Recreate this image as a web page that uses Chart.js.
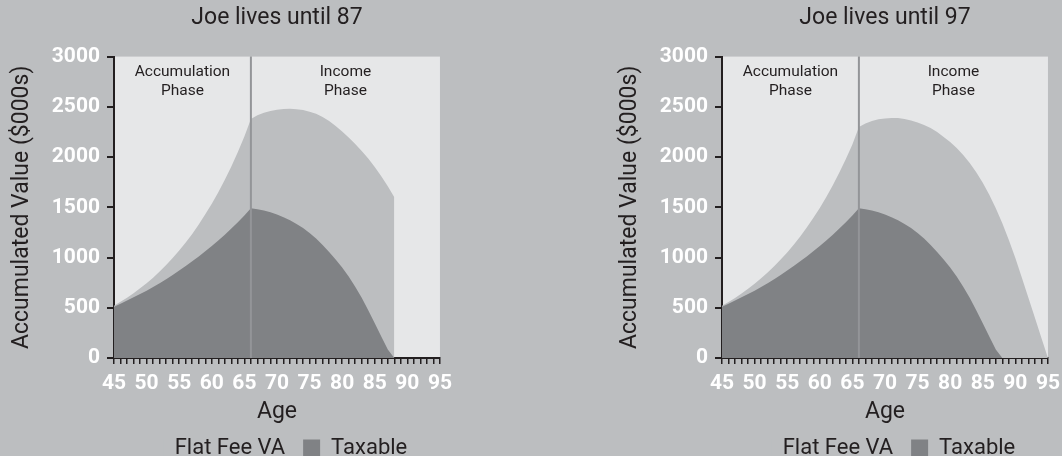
<!DOCTYPE html>
<html>
<head>
<meta charset="utf-8">
<script src="https://cdn.jsdelivr.net/npm/chart.js@4"></script>
<style>
  html, body { margin: 0; padding: 0; background: #bcbec0; overflow: hidden; }
  .box { position: absolute; top: 0; width: 459px; height: 469px; }
</style>
</head>
<body>
<div class="box" style="left:0"><canvas id="leftChart"></canvas></div>
<div class="box" style="left:608px"><canvas id="rightChart"></canvas></div>
<script>
// ages on the x axis, one point per year
const ages = [45,46,47,48,49,50,51,52,53,54,55,56,57,58,59,60,61,62,63,64,65,
              66,67,68,69,70,71,72,73,74,75,76,77,78,79,80,81,82,83,84,85,
              86,87,88,89,90,91,92,93,94,95];
const retireAge = 66;

// Taxable account, same in both scenarios (ages 45..88)
const taxable = [510,540,572,604,637,670,707,745,785,827,870,915,962,1011,1062,1115,
                 1170,1228,1289,1352,1419,1490,1480,1468,1450,1428,1402,1372,1335,1293,
                 1245,1190,1125,1055,980,900,810,710,600,475,345,215,85,0];

// Flat Fee VA, Joe lives until 87 (ages 45..88)
const vaUntil87 = [520,560,600,645,695,745,800,860,925,995,1070,1150,1235,1330,1430,1535,
                   1650,1775,1905,2050,2205,2380,2415,2440,2458,2470,2478,2480,2477,2468,
                   2452,2430,2400,2360,2310,2255,2195,2130,2060,1985,1900,1810,1710,1600];

// Flat Fee VA, Joe lives until 97 (ages 45..95)
const vaUntil97 = [520,558,598,642,689,739,793,851,913,980,1050,1127,1210,1298,1393,1494,
                   1603,1720,1846,1980,2125,2300,2335,2360,2376,2385,2390,2388,2380,2365,
                   2345,2320,2290,2250,2200,2150,2090,2020,1940,1850,1745,1625,1490,1340,
                   1175,995,800,600,400,200,0];

const dark = '#231f20';
const plotBg = '#e6e7e8';
const vaColor = '#bcbec0';
const taxColor = '#808285';

// plot background, retirement line and phase captions
const phasePlugin = {
    id: 'phases',
    beforeDraw(chart) {
        const {ctx, chartArea: a} = chart;
        ctx.save();
        ctx.fillStyle = plotBg;
        ctx.fillRect(a.left, a.top, a.right - a.left, a.bottom - a.top);
        ctx.restore();
    },
    afterDatasetsDraw(chart) {
        const {ctx, chartArea: a, scales: {x}} = chart;
        const xr = x.getPixelForValue(ages.indexOf(retireAge));
        ctx.save();
        ctx.strokeStyle = '#939598';
        ctx.lineWidth = 2;
        ctx.beginPath();
        ctx.moveTo(xr, a.top);
        ctx.lineTo(xr, a.bottom);
        ctx.stroke();

        ctx.fillStyle = dark;
        ctx.font = '15.5px Roboto';
        ctx.textAlign = 'center';
        ctx.textBaseline = 'middle';
        const cl = (a.left + xr) / 2, cr = (xr + a.right) / 2;
        ctx.fillText('Accumulation', cl, a.top + 16);
        ctx.fillText('Phase', cl, a.top + 35);
        ctx.fillText('Income', cr, a.top + 16);
        ctx.fillText('Phase', cr, a.top + 35);
        ctx.restore();
    }
};

function makeChart(id, titleText, vaData) {
    const ctx = document.getElementById(id).getContext('2d');
    return new Chart(ctx, {
        type: 'line',
        data: {
            labels: ages,
            datasets: [{
                label: 'Flat Fee VA',
                data: vaData,
                backgroundColor: vaColor,
                borderColor: vaColor,
                borderWidth: 0,
                fill: 'origin',
                order: 1
            }, {
                label: 'Taxable',
                data: taxable,
                backgroundColor: taxColor,
                borderColor: taxColor,
                borderWidth: 0,
                fill: 'origin',
                order: 0
            }]
        },
        options: {
            responsive: true,
            maintainAspectRatio: false,
            animation: false,
            layout: { padding: { left: 0, right: 10, top: 0, bottom: 0 } },
            elements: {
                point: { radius: 0 },
                line: { tension: 0 }
            },
            plugins: {
                tooltip: { enabled: false },
                title: {
                    display: true,
                    text: titleText,
                    fullSize: false,
                    color: dark,
                    font: { family: 'Roboto', size: 23, weight: 'normal' },
                    padding: { top: 4, bottom: 25 }
                },
                legend: {
                    position: 'bottom',
                    fullSize: false,
                    labels: {
                        color: dark,
                        font: { family: 'Roboto', size: 22 },
                        boxWidth: 17,
                        boxHeight: 17,
                        padding: 18,
                        sort: (a, b) => a.datasetIndex - b.datasetIndex
                    }
                }
            },
            scales: {
                x: {
                    z: 1,
                    afterFit: function(scale) { scale.height = 61; },
                    border: { display: true, color: dark, width: 2 },
                    grid: {
                        display: true,
                        drawOnChartArea: false,
                        drawTicks: true,
                        tickLength: 6,
                        color: dark,
                        lineWidth: 1.5
                    },
                    ticks: {
                        autoSkip: false,
                        maxRotation: 0,
                        minRotation: 0,
                        padding: 7,
                        color: '#ffffff',
                        font: { family: 'Roboto', size: 21, weight: 'bold' },
                        callback: function(value, index) {
                            return ages[index] % 5 === 0 ? String(ages[index]) : '';
                        }
                    },
                    title: {
                        display: true,
                        text: 'Age',
                        color: dark,
                        font: { family: 'Roboto', size: 23 },
                        padding: { top: 0, bottom: -7 }
                    }
                },
                y: {
                    z: 1,
                    min: 0,
                    max: 3000,
                    afterFit: function(scale) { scale.width = 114; },
                    border: { display: true, color: dark, width: 2 },
                    grid: {
                        display: true,
                        drawOnChartArea: false,
                        drawTicks: true,
                        tickLength: 7,
                        color: dark,
                        lineWidth: 2
                    },
                    ticks: {
                        stepSize: 500,
                        padding: 7,
                        color: '#ffffff',
                        font: { family: 'Roboto', size: 21, weight: 'bold' },
                        callback: function(value) { return String(value); }
                    },
                    title: {
                        display: true,
                        text: 'Accumulated Value ($000s)',
                        color: dark,
                        font: { family: 'Roboto', size: 23 },
                        padding: { top: 8, bottom: 0 }
                    }
                }
            }
        },
        plugins: [phasePlugin]
    });
}

makeChart('leftChart', 'Joe lives until 87', vaUntil87);
makeChart('rightChart', 'Joe lives until 97', vaUntil97);
</script>
</body>
</html>
